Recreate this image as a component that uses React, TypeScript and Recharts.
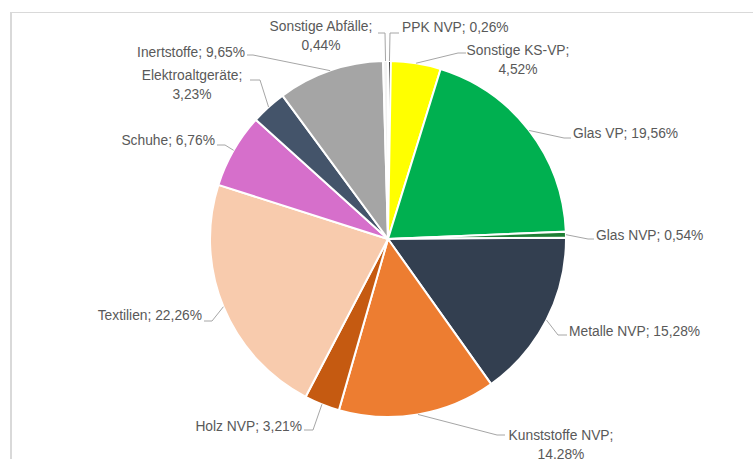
import React from "react";
import { PieChart, Pie, Cell } from "recharts";

// slices clockwise from 12 o'clock
const categories = [
  "PPK NVP",
  "Sonstige KS-VP",
  "Glas VP",
  "Glas NVP",
  "Metalle NVP",
  "Kunststoffe NVP",
  "Holz NVP",
  "Textilien",
  "Schuhe",
  "Elektroaltgeräte",
  "Inertstoffe",
  "Sonstige Abfälle",
];

const shares = [0.26, 4.52, 19.56, 0.54, 15.28, 14.28, 3.21, 22.26, 6.76, 3.23, 9.65, 0.44];

// label text as printed in the source (one entry per line)
const labelLines = [
  ["PPK NVP; 0,26%"],
  ["Sonstige KS-VP;", "4,52%"],
  ["Glas VP; 19,56%"],
  ["Glas NVP; 0,54%"],
  ["Metalle NVP; 15,28%"],
  ["Kunststoffe NVP;", "14.28%"],
  ["Holz NVP; 3,21%"],
  ["Textilien; 22,26%"],
  ["Schuhe; 6,76%"],
  ["Elektroaltgeräte;", "3,23%"],
  ["Inertstoffe; 9,65%"],
  ["Sonstige Abfälle;", "0,44%"],
];

const colors = [
  "#0d0d0d",
  "#ffff00",
  "#00b050",
  "#1e7e34",
  "#333f50",
  "#ed7d31",
  "#c55a11",
  "#f8cbad",
  "#d66fcb",
  "#44546a",
  "#a5a5a5",
  "#f2f2f2",
];

// where Excel put each label: text x, first line y, anchor, and leader end / elbow
const labelLayout = [
  { x: 402, y: 27, anchor: "start", end: [399, 33], elbow: [390, 33] },
  { x: 518, y: 50, anchor: "middle", end: [466, 53], elbow: [458, 53] },
  { x: 573, y: 133, anchor: "start", end: [571, 138], elbow: [564, 138] },
  { x: 596, y: 235, anchor: "start", end: [594, 239], elbow: [588, 239] },
  { x: 569, y: 331, anchor: "start", end: [567, 335], elbow: [558, 335] },
  { x: 561, y: 435, anchor: "middle", end: [505, 435], elbow: [497, 435] },
  { x: 302, y: 426, anchor: "end", end: [304, 430], elbow: [313, 430] },
  { x: 202, y: 315, anchor: "end", end: [204, 321], elbow: [212, 321] },
  { x: 215, y: 140, anchor: "end", end: [217, 145], elbow: [225, 145] },
  { x: 192, y: 75, anchor: "middle", end: [250, 80], elbow: [260, 80] },
  { x: 245, y: 52, anchor: "end", end: [247, 55], elbow: [253, 55] },
  { x: 321, y: 26, anchor: "middle", end: [378, 33], elbow: [385, 33] },
];

const data = categories.map((name, i) => ({ name, value: shares[i] }));

const RAD = Math.PI / 180;
const FONT = "'Liberation Sans', Arial, sans-serif";

function renderLabel(props: any) {
  const { cx, cy, midAngle, outerRadius, index } = props;
  const lay = labelLayout[index];
  const ax = cx + outerRadius * Math.cos(-midAngle * RAD);
  const ay = cy + outerRadius * Math.sin(-midAngle * RAD);
  const pts = `${ax},${ay} ${lay.elbow[0]},${lay.elbow[1]} ${lay.end[0]},${lay.end[1]}`;
  return (
    <g key={`lbl-${index}`}>
      <polyline points={pts} fill="none" stroke="#a6a6a6" strokeWidth={1} />
      <text
        x={lay.x}
        y={lay.y}
        textAnchor={lay.anchor}
        dominantBaseline="central"
        fill="#595959"
        fontSize={13.8}
        fontFamily={FONT}
      >
        {labelLines[index].map((line, j) => (
          <tspan key={j} x={lay.x} dy={j === 0 ? 0 : 19}>
            {line}
          </tspan>
        ))}
      </text>
    </g>
  );
}

export default function App() {
  return (
    <div
      style={{
        position: "fixed",
        left: 0,
        top: 0,
        width: 753,
        height: 459,
        background: "#fff",
      }}
    >
      <div
        style={{
          position: "absolute",
          left: 10,
          top: 12,
          right: 0,
          bottom: 0,
          borderLeft: "2px solid #d9d9d9",
          borderTop: "1px solid #d9d9d9",
        }}
      />
      <PieChart
        width={753}
        height={459}
        margin={{ top: 0, right: 0, bottom: 0, left: 0 }}
        style={{ position: "absolute", left: 0, top: 0 }}
      >
        <Pie
          data={data}
          dataKey="value"
          nameKey="name"
          cx={388}
          cy={239}
          outerRadius={178}
          startAngle={90}
          endAngle={-270}
          stroke="#ffffff"
          strokeWidth={2}
          labelLine={false}
          label={renderLabel}
          isAnimationActive={false}
        >
          {data.map((d, i) => (
            <Cell key={d.name} fill={colors[i]} />
          ))}
        </Pie>
      </PieChart>
    </div>
  );
}
